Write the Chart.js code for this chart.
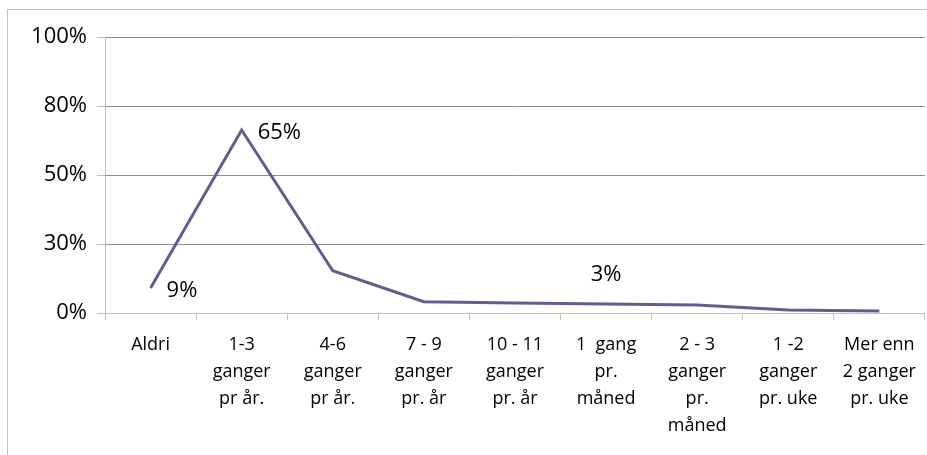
<!DOCTYPE html>
<html>
<head>
<meta charset="utf-8">
<script src="https://cdn.jsdelivr.net/npm/chart.js@4/dist/chart.umd.min.js"></script>
<style>
  html, body { margin: 0; padding: 0; background: #fff; }
  #wrap { position: relative; width: 927px; height: 455px; overflow: hidden; }
  #frame { position: absolute; left: 7px; top: 9px; width: 940px; height: 460px; border: 1px solid #c4c4c4; box-sizing: border-box; }
  canvas { position: absolute; left: 0; top: 0; }
</style>
</head>
<body>
<div id="wrap">
  <div id="frame"></div>
  <canvas id="chart" width="927" height="455"></canvas>
</div>
<script>
const categories = [
  'Aldri',
  ['1-3', 'ganger', 'pr år.'],
  ['4-6', 'ganger', 'pr år.'],
  ['7 - 9', 'ganger', 'pr. år'],
  ['10 - 11', 'ganger', 'pr. år'],
  ['1  gang', 'pr.', 'måned'],
  ['2 - 3', 'ganger', 'pr.', 'måned'],
  ['1 -2', 'ganger', 'pr. uke'],
  ['Mer enn', '2 ganger', 'pr. uke']
];
const values = [9.1, 66.3, 15.3, 4.1, 3.6, 3.3, 2.9, 1.1, 0.7];
const valueLabels = ['9%', '65%', '', '', '', '3%', '', '', ''];
const yTickLabels = ['0%', '30%', '50%', '80%', '100%'];

// where each value label sits relative to its point
const labelPlacement = { 0: 'right', 1: 'right', 5: 'above' };

const valueLabelPlugin = {
  id: 'valueLabels',
  afterDatasetsDraw(chart) {
    const ctx = chart.ctx;
    const meta = chart.getDatasetMeta(0);
    ctx.save();
    ctx.font = '22px "Open Sans"';
    ctx.fillStyle = '#000';
    meta.data.forEach((pt, i) => {
      const txt = valueLabels[i];
      if (!txt) return;
      if (labelPlacement[i] === 'above') {
        ctx.textAlign = 'center';
        ctx.textBaseline = 'middle';
        ctx.fillText(txt, pt.x, pt.y - 29);
      } else {
        ctx.textAlign = 'left';
        ctx.textBaseline = 'middle';
        ctx.fillText(txt, pt.x + 16, pt.y + 3);
      }
    });
    ctx.restore();
  }
};

new Chart(document.getElementById('chart').getContext('2d'), {
  type: 'line',
  data: {
    labels: categories,
    datasets: [{
      data: values,
      borderColor: 'rgb(94, 94, 150)',
      borderWidth: 3,
      pointRadius: 0,
      tension: 0,
      fill: false
    }]
  },
  options: {
    responsive: false,
    animation: false,
    layout: { padding: { top: 37, right: 2, bottom: 0, left: 0 } },
    plugins: {
      legend: { display: false },
      tooltip: { enabled: false }
    },
    scales: {
      x: {
        offset: true,
        grid: {
          offset: true,
          drawOnChartArea: false,
          color: '#c0c0c0',
          tickLength: 7
        },
        border: { color: '#c0c0c0' },
        ticks: {
          autoSkip: false,
          maxRotation: 0,
          padding: 11,
          color: '#000',
          font: { family: '"Open Sans"', size: 18, lineHeight: 1.5 }
        },
        afterFit: s => { s.height = 142; }
      },
      y: {
        min: 0,
        max: 100,
        ticks: {
          stepSize: 25,
          padding: 10,
          color: '#000',
          font: { family: '"Open Sans"', size: 22 },
          callback: (v, i) => yTickLabels[i]
        },
        grid: {
          color: '#8c8c8c',
          tickColor: '#c0c0c0',
          tickLength: 8
        },
        border: { color: '#c0c0c0' },
        afterFit: s => { s.width = 105; }
      }
    }
  },
  plugins: [valueLabelPlugin]
});
</script>
</body>
</html>
